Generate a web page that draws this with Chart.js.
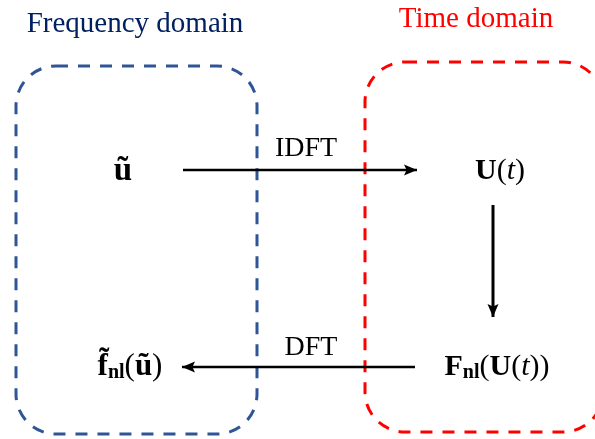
<!DOCTYPE html>
<html>
<head>
<meta charset="utf-8">
<script src="https://cdn.jsdelivr.net/npm/chart.js@4"></script>
<style>
html,body{margin:0;padding:0;background:#fff;}
#wrap{width:595px;height:439px;position:relative;}
</style>
</head>
<body>
<div id="wrap"><canvas id="c" width="595" height="439"></canvas></div>
<script>
// Diagram "data": domain boxes (in diagram coordinates)
const boxNames = ['Frequency domain', 'Time domain'];
const boxLeft = [16, 365];
const boxRight = [257, 603];
const boxTop = [66, 62];
const boxBottom = [434, 432];
const boxTitleX = [135, 476];
const boxTitleY = [32, 27];

// Arrows
const arrowLabels = ['IDFT', '', 'DFT'];
const arrowFromX = [183, 493, 415];
const arrowFromY = [170, 205, 367];
const arrowToX = [417, 493, 182];
const arrowToY = [170, 317, 367];
const arrowLabelX = [306, 0, 311];
const arrowLabelY = [156, 0, 355];

// Nodes (math expressions)
const nodeNames = ['u_tilde', 'U_t', 'F_nl', 'f_nl'];
const nodeX = [123, 500, 497, 130];
const nodeY = [171, 171, 367, 367];

const SERIF = '"Liberation Serif", "Times New Roman", serif';
const nodeRuns = {
  u_tilde: [{t: 'ũ', f: 'bold 33px ' + SERIF}],
  U_t: [{t: 'U', f: 'bold 30px ' + SERIF}, {t: '(', f: '30px ' + SERIF}, {t: 't', f: 'italic 30px ' + SERIF}, {t: ')', f: '30px ' + SERIF}],
  F_nl: [{t: 'F', f: 'bold 30px ' + SERIF}, {t: 'nl', f: 'bold 20px ' + SERIF, dy: 6}, {t: '(', f: '30px ' + SERIF}, {t: 'U', f: 'bold 30px ' + SERIF}, {t: '(', f: '30px ' + SERIF}, {t: 't', f: 'italic 30px ' + SERIF}, {t: '))', f: '30px ' + SERIF}],
  f_nl: [{t: 'f̃', f: 'bold 31px ' + SERIF}, {t: 'nl', f: 'bold 20px ' + SERIF, dy: 6}, {t: '(', f: '31px ' + SERIF}, {t: 'ũ', f: 'bold 31px ' + SERIF}, {t: ')', f: '31px ' + SERIF}]
};

const boxColors = ['#2F5597', '#FF0000'];
const titleColors = ['#002060', '#FF0000'];

const datasets = arrowFromX.map((x, i) => ({
  label: arrowLabels[i] || 'arrow',
  data: [{x: arrowFromX[i], y: arrowFromY[i]}, {x: arrowToX[i], y: arrowToY[i]}],
  showLine: true,
  borderColor: '#000',
  borderWidth: i === 1 ? 3 : 2.5,
  pointRadius: 0,
  fill: false
}));

const diagramPlugin = {
  id: 'diagram',
  beforeDatasetsDraw(chart) {
    const ctx = chart.ctx, xs = chart.scales.x, ys = chart.scales.y;
    ctx.save();
    for (let i = 0; i < boxNames.length; i++) {
      const l = xs.getPixelForValue(boxLeft[i]), r = xs.getPixelForValue(boxRight[i]);
      const t = ys.getPixelForValue(boxTop[i]), b = ys.getPixelForValue(boxBottom[i]);
      ctx.beginPath();
      ctx.setLineDash([12, 10]);
      ctx.lineWidth = 3;
      ctx.strokeStyle = boxColors[i];
      ctx.roundRect(l, t, r - l, b - t, 40);
      ctx.stroke();
      ctx.setLineDash([]);
      ctx.fillStyle = titleColors[i];
      ctx.font = '29px ' + SERIF;
      ctx.textAlign = 'center';
      ctx.textBaseline = 'alphabetic';
      ctx.fillText(boxNames[i], xs.getPixelForValue(boxTitleX[i]), ys.getPixelForValue(boxTitleY[i]));
    }
    ctx.restore();
  },
  afterDatasetsDraw(chart) {
    const ctx = chart.ctx, xs = chart.scales.x, ys = chart.scales.y;
    ctx.save();
    for (let i = 0; i < arrowFromX.length; i++) {
      const x0 = xs.getPixelForValue(arrowFromX[i]), y0 = ys.getPixelForValue(arrowFromY[i]);
      const x1 = xs.getPixelForValue(arrowToX[i]), y1 = ys.getPixelForValue(arrowToY[i]);
      const ang = Math.atan2(y1 - y0, x1 - x0);
      const L = 13, W = 5.5;
      ctx.beginPath();
      ctx.moveTo(x1, y1);
      ctx.lineTo(x1 - L * Math.cos(ang) + W * Math.sin(ang), y1 - L * Math.sin(ang) - W * Math.cos(ang));
      ctx.lineTo(x1 - L * Math.cos(ang) * 0.8, y1 - L * Math.sin(ang) * 0.8);
      ctx.lineTo(x1 - L * Math.cos(ang) - W * Math.sin(ang), y1 - L * Math.sin(ang) + W * Math.cos(ang));
      ctx.closePath();
      ctx.fillStyle = '#000';
      ctx.fill();
      if (arrowLabels[i]) {
        ctx.font = '28px ' + SERIF;
        ctx.textAlign = 'center';
        ctx.textBaseline = 'alphabetic';
        ctx.fillText(arrowLabels[i], xs.getPixelForValue(arrowLabelX[i]), ys.getPixelForValue(arrowLabelY[i]));
      }
    }
    ctx.fillStyle = '#000';
    ctx.textBaseline = 'middle';
    ctx.textAlign = 'left';
    for (let i = 0; i < nodeNames.length; i++) {
      const runs = nodeRuns[nodeNames[i]];
      let w = 0;
      runs.forEach(r => { ctx.font = r.f; w += ctx.measureText(r.t).width; });
      let x = xs.getPixelForValue(nodeX[i]) - w / 2;
      const y = ys.getPixelForValue(nodeY[i]);
      runs.forEach(r => {
        ctx.font = r.f;
        ctx.fillText(r.t, x, y + (r.dy || 0));
        x += ctx.measureText(r.t).width;
      });
    }
    ctx.restore();
  }
};

new Chart(document.getElementById('c'), {
  type: 'scatter',
  data: {datasets},
  options: {
    responsive: false,
    animation: false,
    events: [],
    layout: {padding: 0},
    plugins: {legend: {display: false}, tooltip: {enabled: false}},
    scales: {
      x: {type: 'linear', min: 0, max: 595, display: false},
      y: {type: 'linear', min: 0, max: 439, reverse: true, display: false}
    }
  },
  plugins: [diagramPlugin]
});
</script>
</body>
</html>
